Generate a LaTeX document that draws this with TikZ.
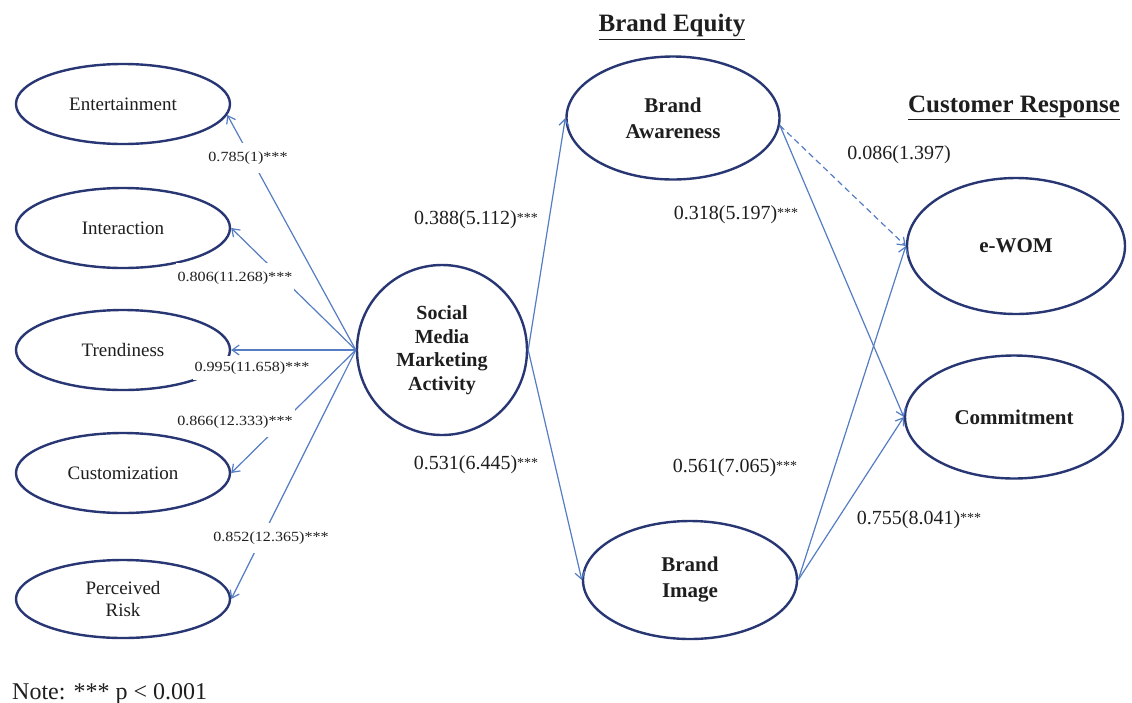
\documentclass[tikz,border=0pt]{standalone}
\usepackage{fontspec}
\setmainfont{Liberation Serif}
\newfontfamily\lblfont[FakeStretch=1.15]{Liberation Serif}
\usetikzlibrary{shapes.geometric,arrows.meta}
\definecolor{ellc}{RGB}{40,55,115}
\definecolor{arrc}{RGB}{85,125,195}
\definecolor{txt}{RGB}{30,30,30}
\newcommand\mystars{\raisebox{2pt}{\fontsize{14}{14}\selectfont ***}}
\begin{document}
\begin{tikzpicture}[x=1pt,y=-1pt,
  lat/.style={ellipse,draw=ellc,line width=2.4pt,inner sep=0pt,minimum width=214pt,minimum height=80pt,
    font=\fontsize{19}{22}\selectfont,text=txt,align=center},
  latb/.style={lat,font=\fontsize{21}{26}\selectfont\bfseries},
  circ/.style={circle,draw=ellc,line width=2.4pt,inner sep=0pt,minimum size=170pt,
    font=\fontsize{20}{23.5}\selectfont\bfseries,text=txt,align=center},
  arr/.style={draw=arrc,line width=1.2pt,-{Straight Barb[length=7pt,width=10pt]}},
  lbl/.style={fill=white,inner xsep=2pt,inner ysep=9pt,font=\fontsize{14}{16}\lblfont,text=txt},
  mlbl/.style={inner sep=1pt,font=\fontsize{20}{24}\selectfont,text=txt},
  ttl/.style={inner sep=0pt,font=\fontsize{25}{28}\selectfont\bfseries,text=txt}
]
\useasboundingbox[fill=white] (0,0) rectangle (1132,702);

% titles
\node[ttl] (t1) at (672,27) {\underline{Brand Equity}};
\node[ttl] (t2) at (1014,108) {\underline{Customer Response}};

% left constructs
\node[lat] (ent) at (123,104) {Entertainment};
\node[lat] (int) at (123,228) {Interaction};
\node[lat] (tre) at (123,350) {Trendiness};
\node[lat] (cus) at (123,473) {Customization};
\node[lat,minimum height=78pt] (per) at (123,599) {Perceived\\Risk};

% central
\node[circ] (smma) at (442,350) {Social\\Media\\Marketing\\Activity};

% brand equity
\node[latb,minimum width=213pt,minimum height=123pt] (ba) at (673,118) {Brand\\Awareness};
\node[latb,minimum width=214pt,minimum height=118pt] (bi) at (690,580) {Brand\\Image};

% customer response
\node[latb,minimum width=218pt,minimum height=136pt] (ewom) at (1016,246) {e-WOM};
\node[latb,minimum width=218pt,minimum height=123pt] (com) at (1014,417) {Commitment};

% arrows
\draw[arr] (smma.west) -- (ent.-6);
\draw[arr] (smma.west) -- (int.east);
\draw[arr] (smma.west) -- (tre.east);
\draw[arr] (smma.west) -- (cus.east);
\draw[arr] (smma.west) -- (per.east);

\draw[arr] (smma.east) -- (ba.west);
\draw[arr] (smma.east) -- (bi.west);

\draw[arr,dash pattern=on 6pt off 4pt] (ba.-4) -- (ewom.west);
\draw[arr] (ba.-4) -- (com.west);
\draw[arr] (bi.east) -- (ewom.west);
\draw[arr] (bi.east) -- (com.west);

% left labels
\node[lbl] (l1) at (248,158) {0.785(1)***};
\node[lbl] (l2) at (235,278) {0.806(11.268)***};
\node[lbl,inner ysep=6pt] (l3) at (252,368) {0.995(11.658)***};
\node[lbl] (l4) at (235,422) {0.866(12.333)***};
\node[lbl] (l5) at (271,538) {0.852(12.365)***};

% path labels
\node[mlbl] (m1) at (476,220) {0.388(5.112)\mystars};
\node[mlbl] (m2) at (476,465) {0.531(6.445)\mystars};
\node[mlbl] (m3) at (736,215) {0.318(5.197)\mystars};
\node[mlbl] (m4) at (735,468) {0.561(7.065)\mystars};
\node[mlbl] (m5) at (899,155) {0.086(1.397)};
\node[mlbl] (m6) at (919,520) {0.755(8.041)\mystars};

% note
\node[anchor=base west,inner sep=0pt,font=\fontsize{24}{26}\selectfont,text=txt] (note) at (12,699) {Note: *** p {\textless} 0.001};
\end{tikzpicture}
\end{document}
